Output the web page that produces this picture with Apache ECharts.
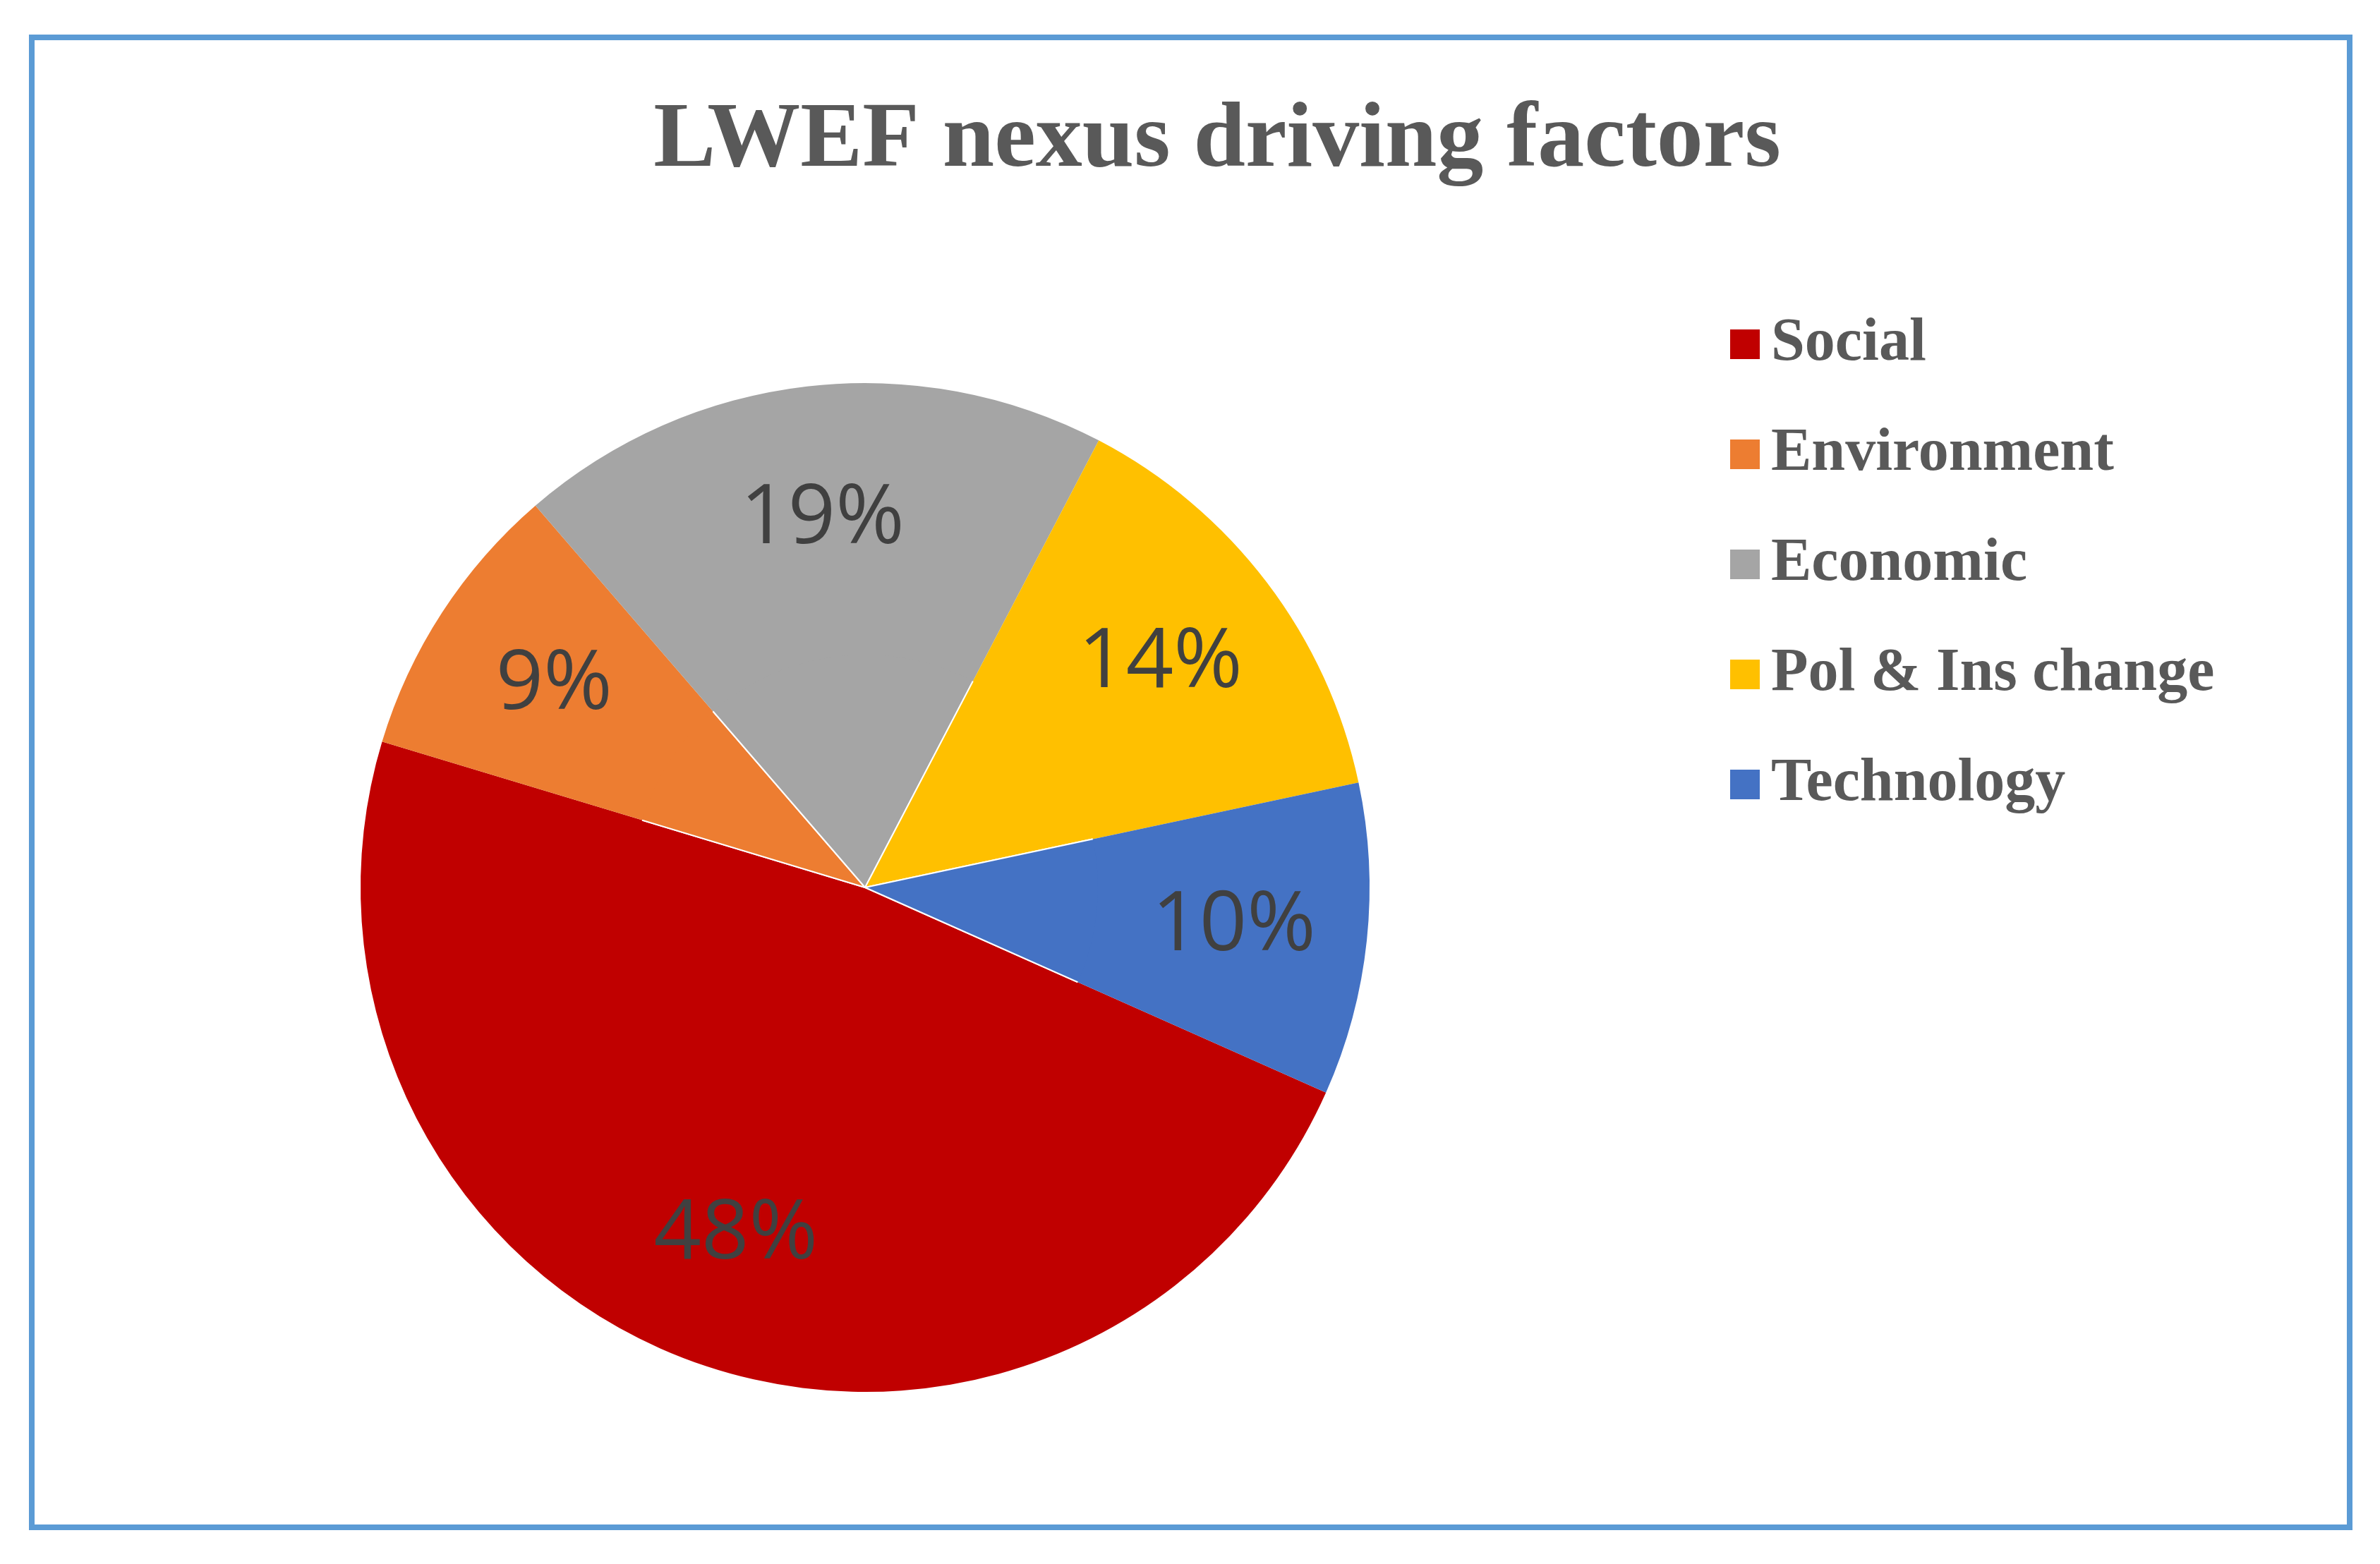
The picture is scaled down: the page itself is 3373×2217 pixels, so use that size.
<!DOCTYPE html>
<html>
<head>
<meta charset="utf-8">
<script src="https://cdn.jsdelivr.net/npm/echarts@6/dist/echarts.min.js"></script>
<style>html,body{margin:0;padding:0;background:#fff}#chart{width:3373px;height:2217px}</style>
</head>
<body>
<div id="chart"></div>
<script>
var categories = ['Social', 'Environment', 'Economic', 'Pol & Ins change', 'Technology'];
var values = [48, 9, 19, 14, 10];
var colors = ['#C00000', '#ED7D31', '#A5A5A5', '#FFC000', '#4472C4'];

var chart = echarts.init(document.getElementById('chart'));

var data = categories.map(function (name, i) {
    return { name: name, value: values[i], itemStyle: { color: colors[i] } };
});

var option = {
    animation: false,
    title: {
        text: 'LWEF nexus driving factors',
        left: 1720, top: 130, textAlign: 'center',
        textStyle: { fontFamily: 'Liberation Serif', fontWeight: 'bold', fontSize: 132, color: '#595959' }
    },
    legend: {
        orient: 'vertical',
        left: 2445, top: 440,
        itemWidth: 44, itemHeight: 44, itemGap: 70,
        icon: 'rect',
        data: categories,
        textStyle: { fontFamily: 'Liberation Serif', fontWeight: 'bold', fontSize: 86, color: '#595959', padding: [0, 0, 0, 10] }
    },
    graphic: [{
        type: 'rect',
        shape: { x: 45, y: 53, width: 3285, height: 2112 },
        style: { fill: 'none', stroke: '#5B9BD5', lineWidth: 8 }
    }],
    series: [
        {
            type: 'pie',
            center: [1226, 1258],
            radius: [0, 715],
            startAngle: -24,
            clockwise: true,
            data: data,
            label: { show: false },
            labelLine: { show: false },
            itemStyle: { borderColor: '#fff', borderWidth: 2 }
        },
        {
            type: 'pie',
            silent: true,
            center: [1226, 1258],
            radius: [330, 715],
            startAngle: -24,
            clockwise: true,
            data: data,
            itemStyle: { color: 'transparent' },
            label: {
                show: true, position: 'inside',
                formatter: '{c}%',
                fontFamily: 'Open Sans', fontSize: 118, color: '#404040'
            },
            labelLine: { show: false }
        }
    ]
};
chart.setOption(option);
</script>
</body>
</html>
